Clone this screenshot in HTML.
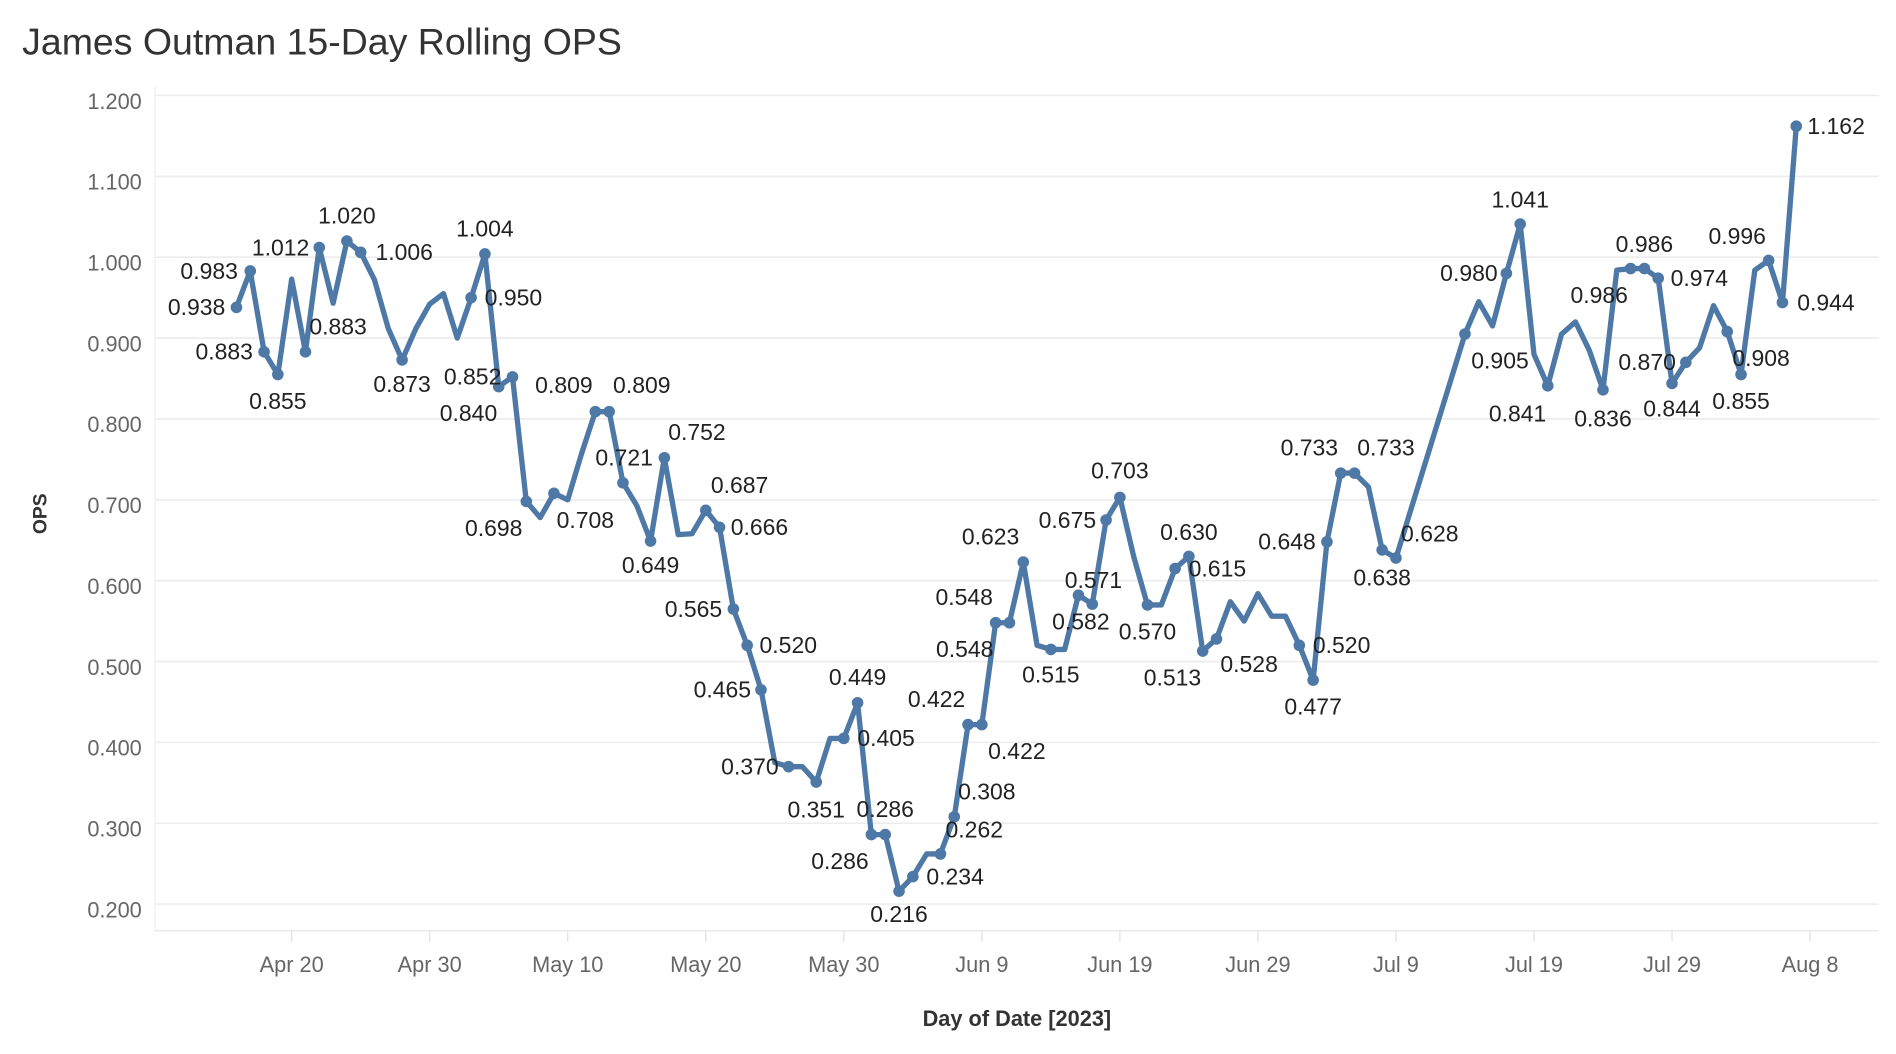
<!DOCTYPE html>
<html><head><meta charset="utf-8"><style>
html,body{margin:0;padding:0;background:#fff;}
svg{display:block;font-family:"Liberation Sans",sans-serif;}
</style></head><body>
<svg id="chart" width="1896" height="1054" viewBox="0 0 1568 872" xmlns="http://www.w3.org/2000/svg">
<text x="18" y="45" font-size="31" fill="#333">James Outman 15-Day Rolling OPS</text>
<g id="grid"></g><g id="axes"></g><g id="series"></g><g id="labels"></g>
<text x="38" y="425" font-size="16" font-weight="bold" fill="#333" text-anchor="middle" transform="rotate(-90 38 425)">OPS</text>
<text x="841" y="849" font-size="18" font-weight="bold" fill="#333" text-anchor="middle">Day of Date [2023]</text>
</svg>
<script>
// day offsets from Apr 20, 2023
const days = [-4,-3,-2,-1,0,1,2,3,4,5,6,7,8,9,10,11,12,13,14,15,16,17,18,19,20,21,22,23,24,25,26,27,28,29,30,31,32,33,34,35,36,37,38,39,40,41,42,43,44,45,46,47,48,49,50,51,52,53,54,55,56,57,58,59,60,61,62,63,64,65,66,67,68,69,70,71,72,73,74,75,76,77,78,79,80,85,86,87,88,89,90,91,92,93,94,95,96,97,98,99,100,101,102,103,104,105,106,107,108,109];
const ops = [0.938,0.983,0.883,0.855,0.973,0.883,1.012,0.943,1.020,1.006,0.972,0.912,0.873,0.912,0.942,0.955,0.900,0.950,1.004,0.840,0.852,0.698,0.678,0.708,0.700,0.757,0.809,0.809,0.721,0.693,0.649,0.752,0.657,0.658,0.687,0.666,0.565,0.520,0.465,0.375,0.370,0.370,0.351,0.405,0.405,0.449,0.286,0.286,0.216,0.234,0.262,0.262,0.308,0.422,0.422,0.548,0.548,0.623,0.520,0.515,0.515,0.582,0.571,0.675,0.703,0.630,0.570,0.570,0.615,0.630,0.513,0.528,0.574,0.550,0.584,0.556,0.556,0.520,0.477,0.648,0.733,0.733,0.716,0.638,0.628,0.905,0.945,0.915,0.980,1.041,0.880,0.841,0.905,0.920,0.885,0.836,0.984,0.986,0.986,0.974,0.844,0.870,0.888,0.940,0.908,0.855,0.984,0.996,0.944,1.162];
const yTicks = [0.2,0.3,0.4,0.5,0.6,0.7,0.8,0.9,1.0,1.1,1.2];
const xTickDays = [0,10,20,30,40,50,60,70,80,90,100,110];
const xTickLabels = ["Apr 20","Apr 30","May 10","May 20","May 30","Jun 9","Jun 19","Jun 29","Jul 9","Jul 19","Jul 29","Aug 8"];
// labelled points: [day, dx, dy] (label placement offsets)
const labelled = [[-4,-33,0],[-3,-34,0],[-2,-33,0],[-1,0,22],[1,27,-21],[2,-32,0],[4,0,-21],[5,36,0],[8,0,20],[13,35,0],[14,0,-21],[15,-25,22],[16,-33,0],[17,-27,22],[19,26,22],[22,-26,-22],[23,27,-22],[24,1,-21],[26,0,20],[27,27,-21],[30,28,-21],[31,33,0],[32,-33,0],[33,34,0],[34,-32,0],[36,-32,0],[38,0,23],[40,35,0],[41,0,-21],[42,-26,22],[43,0,-21],[44,0,19],[45,35,0],[47,28,-20],[48,27,-21],[49,-26,-21],[50,29,22],[51,-26,-21],[52,-37,22],[53,-27,-21],[55,0,21],[57,2,22],[58,1,-20],[59,-32,0],[60,0,-22],[62,0,22],[64,35,0],[65,0,-20],[66,-25,22],[67,27,21],[73,35,0],[74,0,22],[75,-33,0],[76,-26,-21],[77,26,-21],[79,0,23],[80,28,-20],[85,29,22],[88,-31,0],[89,0,-20],[91,-25,23],[95,0,24],[97,-26,22],[98,0,-20],[99,34,0],[100,0,21],[101,-32,0],[104,28,22],[105,0,22],[107,-26,-20],[108,36,0],[109,33,0]];

const NS="http://www.w3.org/2000/svg";
const X0=241, DX=11.42, Y0=79, YS=669;
const xs=d=>X0+d*DX, ys=v=>Y0+(1.2-v)*YS;
function mk(tag,attrs,parent){const e=document.createElementNS(NS,tag);for(const k in attrs)e.setAttribute(k,attrs[k]);parent.appendChild(e);return e;}
const grid=document.getElementById('grid'),axes=document.getElementById('axes'),ser=document.getElementById('series'),lab=document.getElementById('labels');
yTicks.forEach(v=>{
  const l=mk('line',{x1:128,x2:1554,y1:ys(v),y2:ys(v),stroke:'#ececec','stroke-width':1.3},grid);
  
  
  const t=mk('text',{x:117,y:ys(v)+11,'font-size':18,fill:'#666','text-anchor':'end'},axes);
  t.textContent=v.toFixed(3);
  
  
});
const al=mk('line',{x1:128,x2:128,y1:72,y2:770,stroke:'#eee','stroke-width':1},axes);


const bl=mk('line',{x1:128,x2:1554,y1:770,y2:770,stroke:'#e6e6e6','stroke-width':1},axes);


xTickDays.forEach((d,i)=>{
  const tk=mk('line',{x1:xs(d),x2:xs(d),y1:770,y2:779,stroke:'#e0e0e0','stroke-width':1},axes);
  
  
  const t=mk('text',{x:xs(d),y:804,'font-size':18,fill:'#666','text-anchor':'middle'},axes);
  t.textContent=xTickLabels[i];
  
  
});
const pts=days.map((d,i)=>xs(d).toFixed(1)+','+ys(ops[i]).toFixed(1)).join(' ');
const pl=mk('polyline',{points:pts,fill:'none',stroke:'#4e79a7','stroke-width':4.4,'stroke-linejoin':'round','stroke-linecap':'round'},ser);


labelled.forEach(([d,dx,dy])=>{
  const i=days.indexOf(d); if(i<0)return;
  const x=xs(d),y=ys(ops[i]);
  const c=mk('circle',{cx:x,cy:y,r:4.8,fill:'#4e79a7'},ser);
  
  
  const t=mk('text',{x:x+dx,y:y+dy+6.5,'font-size':19,fill:'#222','text-anchor':'middle'},lab);
  t.textContent=ops[i].toFixed(3);
  
  
});
</script>
</body></html>
